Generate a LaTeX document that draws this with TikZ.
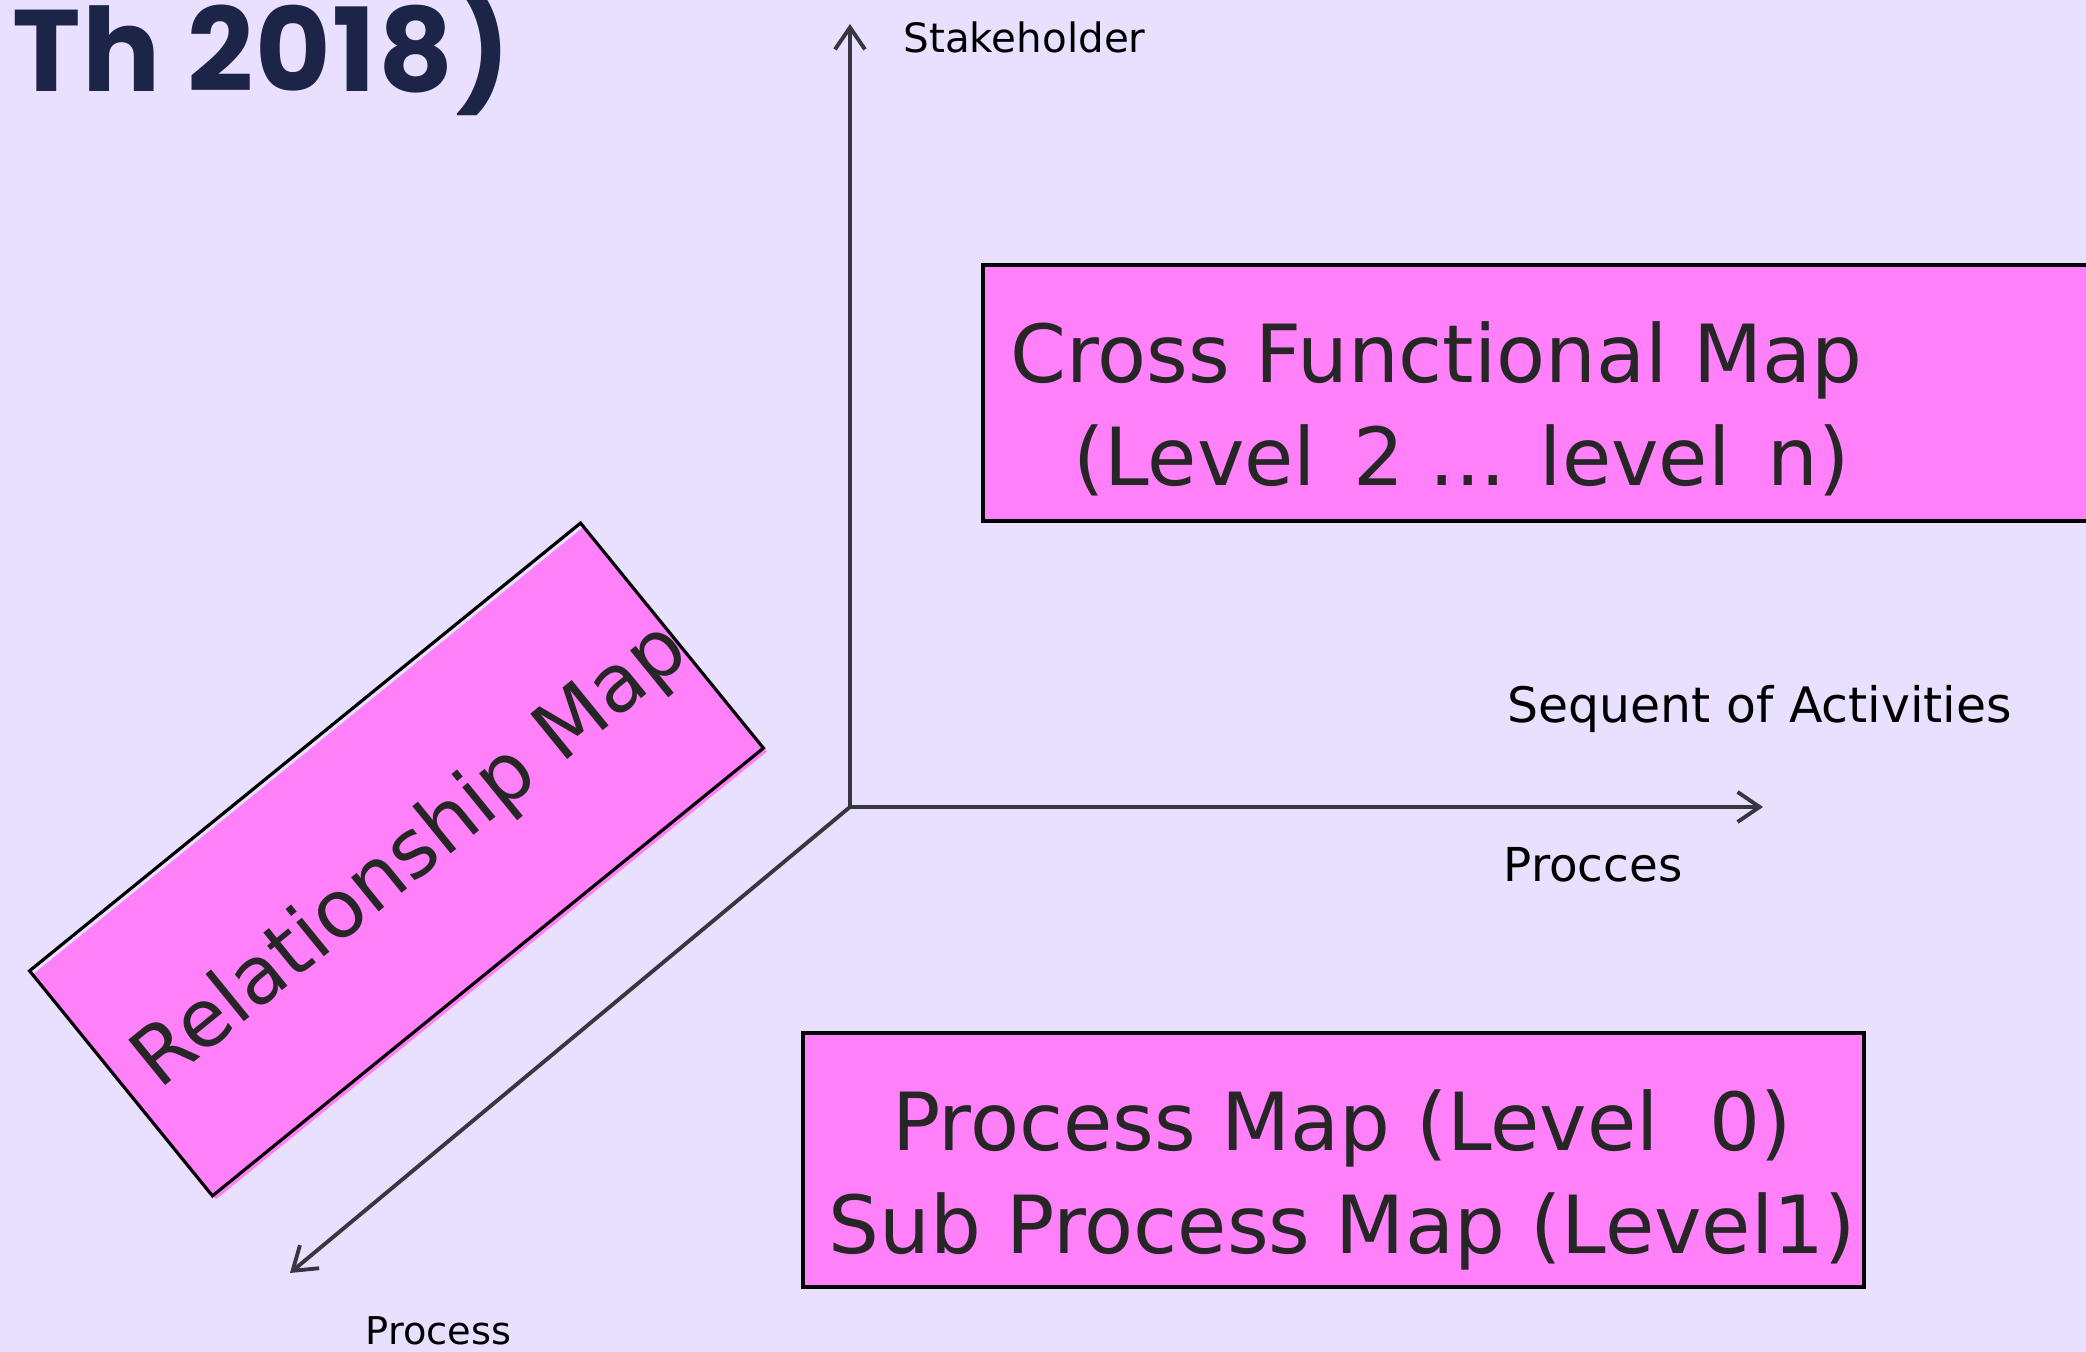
\documentclass[tikz,border=0pt]{standalone}
\usepackage{fontspec}
\setmainfont{DejaVu Sans}
\newfontfamily\titlefont{Poppins}[LetterSpace=1.5]
\usetikzlibrary{arrows.meta}

\definecolor{lavender}{RGB}{233,224,255}
\definecolor{mappink}{RGB}{255,128,248}
\definecolor{titlenavy}{RGB}{28,37,72}
\definecolor{axisgray}{RGB}{55,55,65}

\begin{document}
\begin{tikzpicture}[>={Straight Barb[length=0.22cm,width=0.3cm]},
  axis/.style={->,draw=axisgray,line width=1.1pt},
  map box/.style={rectangle,fill=mappink,draw=black,line width=1.1pt,inner sep=0pt},
  map text/.style={font=\fontsize{22.8}{29.5}\selectfont,text=black!85,align=center},
  axis label/.style={anchor=base west,inner sep=0pt,text=black}]

  \useasboundingbox (0,0) rectangle (20.86,13.52);
  \fill[lavender] (0,0) rectangle (20.86,13.52);
  \clip (0,0) rectangle (20.86,13.52);

  \node[anchor=base west,inner sep=0pt,text=titlenavy,
        font=\titlefont\bfseries\fontsize{33}{38}\selectfont] (title) at (0.12,12.60) {Th 2018)};

  \coordinate (o) at (8.50,5.45);
  \coordinate (up) at (8.50,13.28);
  \coordinate (right) at (17.63,5.45);
  \coordinate (down) at (2.90,0.79);

  \path
    (o) edge[axis] (up)
    (o) edge[axis] (right)
    (o) edge[axis] (down);

  \node[axis label,font=\fontsize{11.5}{14}\selectfont] (stake) at (9.03,12.99) {Stakeholder};
  \node[axis label,font=\fontsize{13.9}{16}\selectfont] (seq) at (15.07,6.29) {Sequent of Activities};
  \node[axis label,font=\fontsize{13.3}{16}\selectfont] (procces) at (15.03,4.70) {Procces};
  \node[axis label,font=\fontsize{10.9}{13}\selectfont] (process) at (3.65,0.07) {Process};

  \node[map box,minimum width=11.5cm,minimum height=2.56cm,anchor=south west] (cross) at (9.81,8.29) {};
  \node[map text,align=left,anchor=west] (crosstext) at (9.98,9.43)
    {Cross Functional Map\\\hspace*{0.63cm}(Level\hspace{0.37cm}2 ... level\hspace{0.37cm}n)};

  \node[map box,minimum width=10.61cm,minimum height=2.54cm] (procmap) at (13.335,1.92) {};
  \node[map text] (proctext) at (13.42,1.72) {Process Map (Level\ \ 0)\\Sub Process Map (Level1)};

  \node[map box,draw=none,rotate=39.1,minimum width=7.10cm,minimum height=2.90cm] (relfill) at (4.00,4.89) {};
  \node[rectangle,draw=black,line width=0.9pt,rotate=39.1,minimum width=7.10cm,minimum height=2.90cm] (rel) at (3.965,4.925) {};
  \node[map text,rotate=39.1] (reltext) at (4.12,4.95) {Relationship Map};
\end{tikzpicture}
\end{document}
